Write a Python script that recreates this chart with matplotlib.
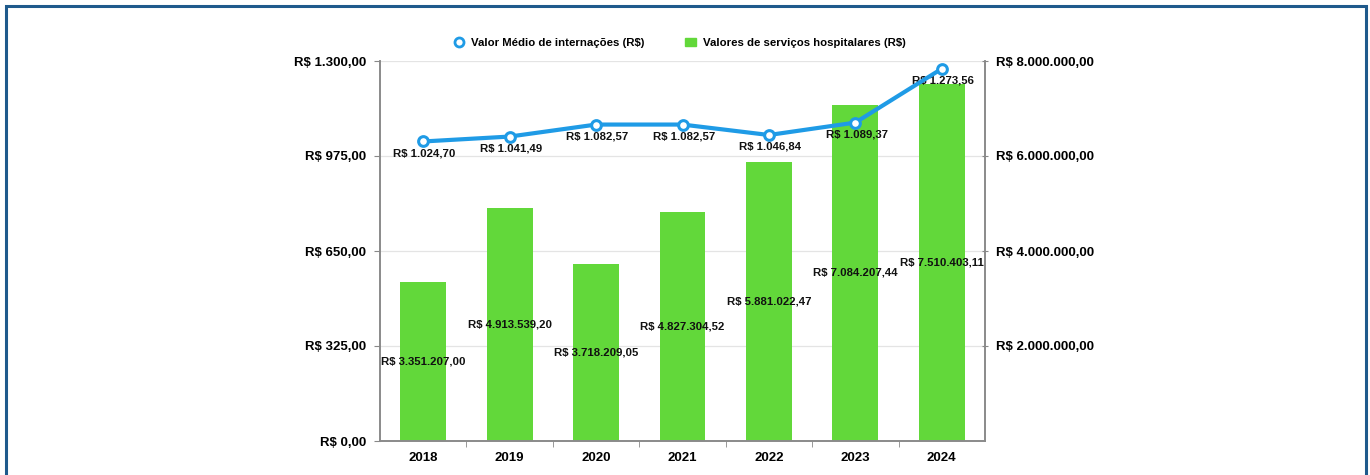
import matplotlib.pyplot as plt
from matplotlib.patches import Rectangle
from matplotlib.lines import Line2D

plt.rcParams['font.family'] = ['Liberation Sans', 'DejaVu Sans']

anos = ['2018', '2019', '2020', '2021', '2022', '2023', '2024']
servicos = [3351207.00, 4913539.20, 3718209.05, 4827304.52, 5881022.47, 7084207.44, 7510403.11]
medio = [1024.70, 1041.49, 1082.57, 1082.57, 1046.84, 1089.37, 1273.56]

left_ticks = [0, 325, 650, 975, 1300]
right_ticks = [2000000, 4000000, 6000000, 8000000]


def brl(v):
    s = f'{v:,.2f}'
    s = s.replace(',', 'X').replace('.', ',').replace('X', '.')
    return 'R$ ' + s


azul = '#1f9be6'
verde = '#62d83a'

fig = plt.figure(figsize=(13.7, 4.75), dpi=100)
fig.patches.append(Rectangle((6 / 1370, -0.05), 1360 / 1370, 1.05 - 6 / 475,
                             transform=fig.transFigure, fill=False,
                             edgecolor='#1f5a8c', linewidth=2.2))

ax = fig.add_axes([380 / 1370, 34 / 475, 605 / 1370, 380 / 475])
ax2 = ax.twinx()

x = list(range(len(anos)))

# bars on the right axis
ax2.bar(x, servicos, width=0.53, color=verde, zorder=2)
ax2.set_ylim(0, 8000000)
ax2.set_yticks(right_ticks)
ax2.set_yticklabels([brl(v) for v in right_ticks], fontsize=9.5, fontweight='bold')
for xi, v in zip(x, servicos):
    ax2.text(xi, v / 2, brl(v), ha='center', va='center', fontsize=8.2,
             fontweight='bold', color='#111111', zorder=5)

# line on the left axis, drawn above the bars
ax.set_zorder(ax2.get_zorder() + 1)
ax.patch.set_visible(False)
ax.plot(x, medio, color=azul, linewidth=3, marker='o', markersize=7,
        markerfacecolor='white', markeredgecolor=azul, markeredgewidth=2.2, zorder=4)
for xi, v in zip(x, medio):
    ax.annotate(brl(v), (xi, v), xytext=(1, -8.5), textcoords='offset points',
                ha='center', va='center', fontsize=8.2, fontweight='bold', color='#111111')

ax.set_ylim(0, 1300)
ax.set_xlim(-0.5, len(anos) - 0.5)
ax.set_yticks(left_ticks)
ax.set_yticklabels([brl(v) for v in left_ticks], fontsize=9.5, fontweight='bold')
ax.set_xticks(x)
ax.set_xticklabels(anos, fontsize=9.5, fontweight='bold')
ax.tick_params(axis='x', length=0, pad=8)
ax.set_xticks([i + 0.5 for i in x[:-1]], minor=True)
ax.tick_params(axis='x', which='minor', length=4, color='#888888')
ax.tick_params(axis='y', length=4, direction='out', color='#888888', pad=6)
ax2.tick_params(axis='y', length=4, direction='inout', color='#888888', pad=6)

for a in (ax, ax2):
    a.spines['top'].set_visible(False)
    for s in ('left', 'right', 'bottom'):
        a.spines[s].set_color('#8a8a8a')
        a.spines[s].set_linewidth(1.2)

for t in left_ticks[1:]:
    ax2.axhline(t / 1300 * 8000000, color='#e4e4e4', linewidth=0.9, zorder=0)

handles = [
    Line2D([], [], color=azul, marker='o', linestyle='none', markersize=6.5,
           markerfacecolor='white', markeredgewidth=2),
    Rectangle((0, 0), 1, 1, color=verde),
]
fig.legend(handles, ['Valor Médio de internações (R$)', 'Valores de serviços hospitalares (R$)'],
           loc='center', bbox_to_anchor=(0.496, 0.909), ncol=2, frameon=False,
           prop={'size': 8.2, 'weight': 'bold'}, handlelength=1.0, handletextpad=0.6,
           columnspacing=3.5)

fig.savefig('out.png', dpi=100)
